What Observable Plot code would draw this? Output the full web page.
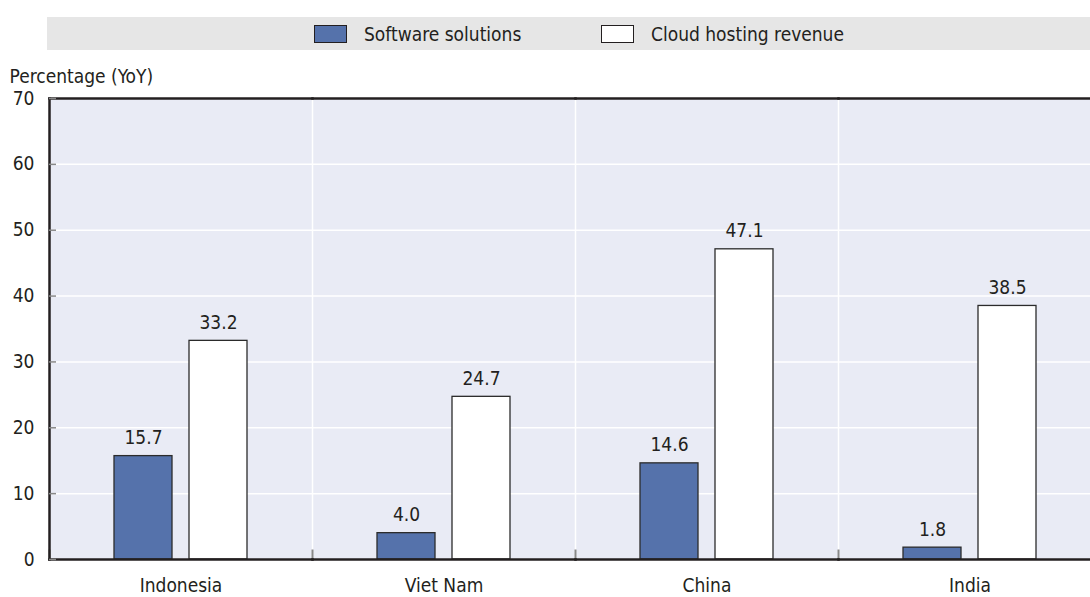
<!DOCTYPE html>
<html>
<head>
<meta charset="utf-8">
<script src="https://cdn.jsdelivr.net/npm/d3@7"></script>
<script src="https://cdn.jsdelivr.net/npm/@observablehq/plot@0.6"></script>
<style>
  html, body { margin: 0; background: #fff; overflow: hidden; width: 1090px; height: 597px; font-family: "DejaVu Sans Condensed", "Liberation Sans Narrow", sans-serif; color: #231f20; }
  #legend { position: absolute; left: 47px; top: 17px; width: 1043px; height: 33px; background: #e6e6e6; }
  .item { position: absolute; top: 0; height: 33px; display: flex; align-items: center; font-size: 19px; }
  .sw { width: 31px; height: 16px; border: 1px solid #231f20; margin-right: 17px; }
  #chart { position: absolute; left: 0; top: 66px; width: 1101px; }
  #chart svg { max-width: none !important; }
</style>
</head>
<body>
<div id="legend"></div>
<div id="chart"></div>
<script>
const countries = ["Indonesia", "Viet Nam", "China", "India"];
const seriesNames = ["Software solutions", "Cloud hosting revenue"];
const software = [15.7, 4.0, 14.6, 1.8];
const cloud = [33.2, 24.7, 47.1, 38.5];
const yTicks = [0, 10, 20, 30, 40, 50, 60, 70];
const colors = ["#5572ab", "#ffffff"];

const data = [];
countries.forEach((c, i) => {
  data.push({country: c, series: seriesNames[0], value: software[i]});
  data.push({country: c, series: seriesNames[1], value: cloud[i]});
});

// legend
const legend = document.getElementById("legend");
const legendLeft = [267, 554];
seriesNames.forEach((s, i) => {
  const it = document.createElement("div");
  it.className = "item";
  it.style.left = legendLeft[i] + "px";
  const sw = document.createElement("div");
  sw.className = "sw";
  sw.style.background = colors[i];
  const t = document.createElement("span");
  t.textContent = s;
  it.appendChild(sw); it.appendChild(t);
  legend.appendChild(it);
});

const font = '"DejaVu Sans Condensed", "Liberation Sans Narrow", sans-serif';
const plot = Plot.plot({
  width: 1101,
  height: 531,
  marginLeft: 48,
  marginRight: 0,
  marginTop: 32,
  marginBottom: 38,
  style: {fontFamily: font, fontSize: "19px", color: "#231f20", background: "transparent", overflow: "visible", maxWidth: "none"},
  fx: {domain: countries, padding: 0, label: null},
  x: {domain: seriesNames, paddingInner: 0.224, paddingOuter: 0.844, axis: null},
  y: {domain: [0, 70], label: null},
  color: {domain: seriesNames, range: colors},
  marks: [
    Plot.frame({fill: "#e9ebf5", stroke: null}),
    Plot.gridY(yTicks, {stroke: "white", strokeOpacity: 1, strokeWidth: 1.5}),
    Plot.frame({anchor: "left", stroke: "white", strokeWidth: 1.5}),
    Plot.frame({anchor: "left", stroke: "#888", strokeWidth: 2, insetTop: 452}),
    Plot.barY(data, {fx: "country", x: "series", y: "value", fill: "series", stroke: "#2b2b2b", strokeWidth: 1.3}),
    Plot.text(data, {fx: "country", x: "series", y: "value", text: d => d.value.toFixed(1), dy: -12, lineAnchor: "bottom", fill: "#231f20"}),
    Plot.frame({anchor: "top", stroke: "#231f20", strokeWidth: 2.5}),
    Plot.frame({anchor: "bottom", stroke: "#231f20", strokeWidth: 2.5}),
    Plot.frame({anchor: "left", facetAnchor: "left", stroke: "#231f20", strokeWidth: 2.5}),
    Plot.axisY(yTicks, {anchor: "left", tickSize: -7, tickPadding: 22, stroke: "#888", strokeWidth: 1.5, fill: "#231f20", label: "Percentage (YoY)", labelAnchor: "top", labelArrow: "none", labelOffset: 40}),
    Plot.axisFx({anchor: "bottom", tickSize: 0, tickPadding: 19, fill: "#231f20", label: null})
  ]
});
document.getElementById("chart").appendChild(plot);
</script>
</body>
</html>
